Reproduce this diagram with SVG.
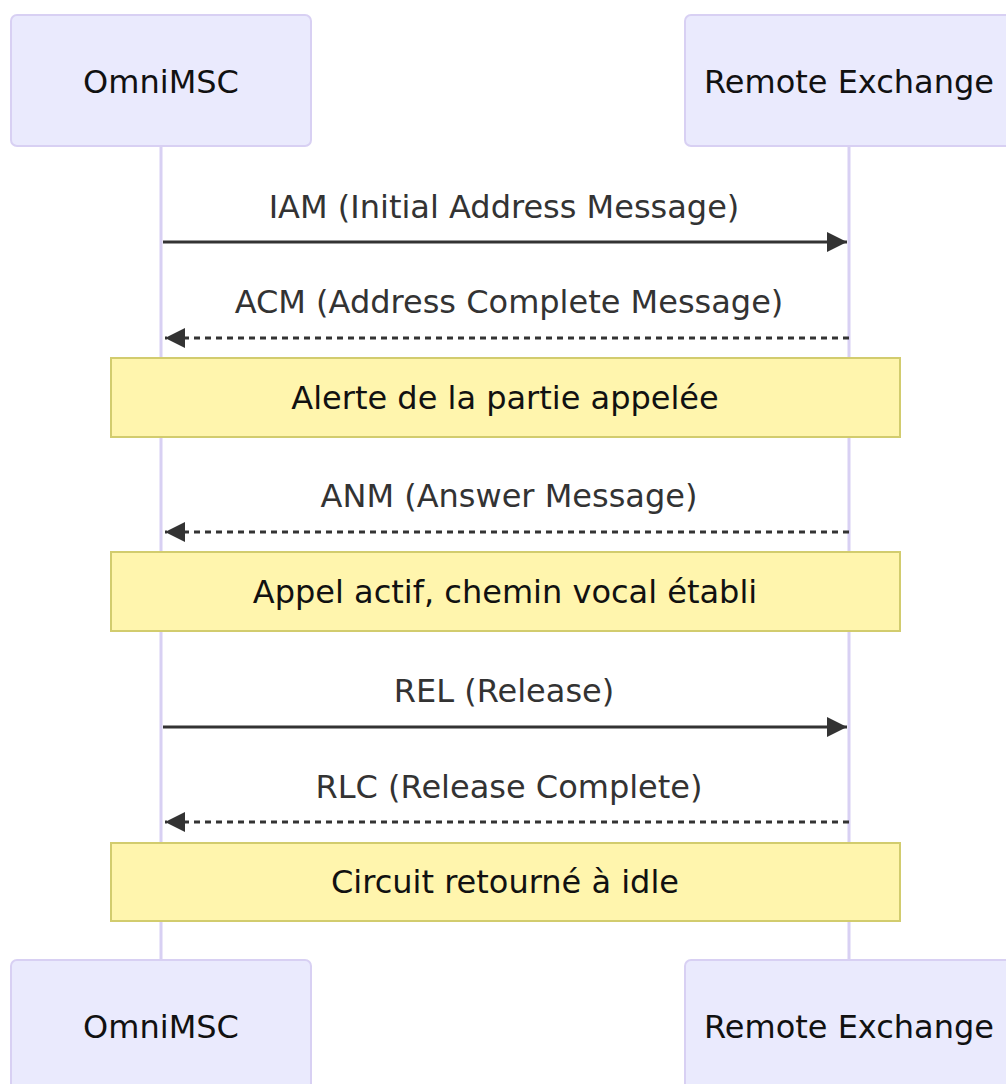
<svg xmlns="http://www.w3.org/2000/svg" width="1006" height="1084" viewBox="0 0 1006 1084">
<style>
.actor{fill:#eaeafd;stroke:#d8d0f3;stroke-width:2}
.life{stroke:#d8d0f3;stroke-width:3}
.atext{font-family:"DejaVu Sans",sans-serif;font-size:32px;fill:#111;text-anchor:middle;dominant-baseline:central}
.mtext{font-family:"DejaVu Sans",sans-serif;font-size:32px;fill:#333;text-anchor:middle;dominant-baseline:central}
.note{fill:#fff5ad;stroke:#d2cc6e;stroke-width:2}
.ntext{font-family:"DejaVu Sans",sans-serif;font-size:32px;fill:#111;text-anchor:middle;dominant-baseline:central}
.msg{stroke:#333;stroke-width:3;fill:none}
.dash{stroke-dasharray:6,5}
</style>
<defs>
<marker id="ah" viewBox="0 0 20 20" refX="20" refY="10" markerWidth="20" markerHeight="20" markerUnits="userSpaceOnUse" orient="auto">
<path d="M0,0 L20,10 L0,20 z" fill="#333"/>
</marker>
</defs>
<g id="lifelines">
<line class="life" x1="161" y1="146" x2="161" y2="960"/>
<line class="life" x1="849" y1="146" x2="849" y2="960"/>
</g>
<g id="actor-omnimsc-top">
<rect class="actor" x="11" y="15" width="300" height="131" rx="6"/>
<text class="atext" x="161" y="82">OmniMSC</text>
</g>
<g id="actor-remote-top">
<rect class="actor" x="685" y="15" width="328" height="131" rx="6"/>
<text class="atext" x="849" y="82">Remote Exchange</text>
</g>
<g id="actor-omnimsc-bottom">
<rect class="actor" x="11" y="960" width="300" height="131" rx="6"/>
<text class="atext" x="161" y="1027">OmniMSC</text>
</g>
<g id="actor-remote-bottom">
<rect class="actor" x="685" y="960" width="328" height="131" rx="6"/>
<text class="atext" x="849" y="1027">Remote Exchange</text>
</g>
<g id="note1">
<rect class="note" x="111" y="358" width="789" height="79"/>
<text class="ntext" x="505" y="398">Alerte de la partie appelée</text>
</g>
<g id="note2">
<rect class="note" x="111" y="552" width="789" height="79"/>
<text class="ntext" x="505" y="592">Appel actif, chemin vocal établi</text>
</g>
<g id="note3">
<rect class="note" x="111" y="843" width="789" height="78"/>
<text class="ntext" x="505" y="882">Circuit retourné à idle</text>
</g>
<g id="connectors">
<line class="msg" x1="163" y1="242" x2="847" y2="242" marker-end="url(#ah)"/>
<text class="mtext" x="504" y="207">IAM (Initial Address Message)</text>
<line class="msg dash" x1="849" y1="338" x2="165" y2="338" marker-end="url(#ah)"/>
<text class="mtext" x="509" y="302">ACM (Address Complete Message)</text>
<line class="msg dash" x1="849" y1="532" x2="165" y2="532" marker-end="url(#ah)"/>
<text class="mtext" x="509" y="496">ANM (Answer Message)</text>
<line class="msg" x1="163" y1="727" x2="847" y2="727" marker-end="url(#ah)"/>
<text class="mtext" x="504" y="691">REL (Release)</text>
<line class="msg dash" x1="849" y1="822" x2="165" y2="822" marker-end="url(#ah)"/>
<text class="mtext" x="509" y="787">RLC (Release Complete)</text>
</g>
</svg>
